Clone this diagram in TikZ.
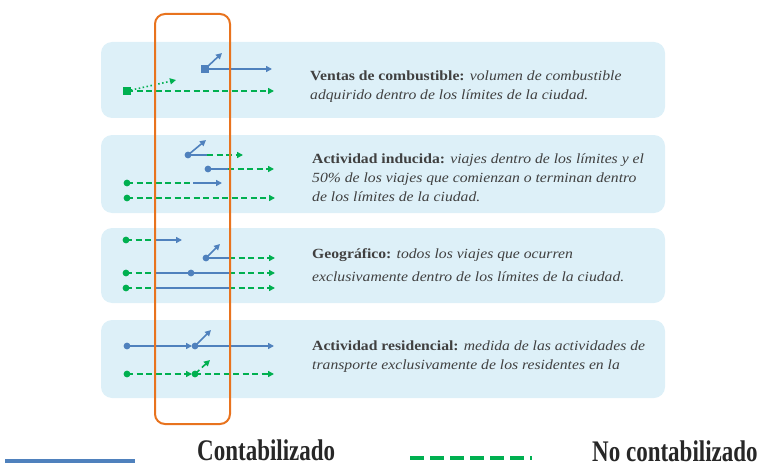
\documentclass[tikz,border=0pt]{standalone}
\usepackage{fontspec}
\setmainfont{Liberation Serif}
\newfontfamily\descfont[FakeStretch=1.12]{Liberation Serif}
\usepackage{graphicx}
\usetikzlibrary{arrows.meta}

\definecolor{contblue}{HTML}{4F81BD}
\definecolor{nocgreen}{HTML}{00B050}
\definecolor{limorange}{HTML}{E8731E}
\definecolor{panelblue}{HTML}{DDF0F8}
\definecolor{txtgray}{HTML}{404040}

\tikzset{
  panel/.style={fill=panelblue, draw=none, rounded corners=11pt},
  cont/.style={contblue, line width=1.6pt},
  nocont/.style={nocgreen, line width=1.6pt, dash pattern=on 6pt off 3.5pt},
  tip/.style={-{Triangle[length=6pt,width=6pt]}},
  desc/.style={anchor=north west, inner sep=0pt, align=left, text=txtgray,
    font=\descfont\fontsize{14}{18.7}\selectfont},
  legend/.style={inner sep=0pt, text=txtgray!60!black, font=\fontsize{23}{24}\selectfont\bfseries}
}

\begin{document}
\begin{tikzpicture}[x=1pt,y=-1pt]
    \useasboundingbox (0,0) rectangle (765,468);
    % panels
    \fill[panel] (101,42) rectangle (665,118);
    \fill[panel] (101,135) rectangle (665,213);
    \fill[panel] (101,228) rectangle (665,303);
    \fill[panel] (101,320) rectangle (665,398);

    % ventas de combustible
    \draw[cont,tip] (205,69) -- (272,69);
    \draw[cont,tip] (205,69) -- (222,53);
    \fill[contblue] (201,65) rectangle (209,73);
    \draw[nocgreen, line width=1.6pt, dash pattern=on 1.5pt off 2.5pt, tip] (127,91) -- (176,80);
    \draw[nocont,tip] (127,91) -- (274,91);
    \fill[nocgreen] (123,87) rectangle (131,95);

    % actividad inducida
    \draw[cont,tip] (188,155) -- (206,140);
    \draw[cont] (188,155) -- (207,155);
    \draw[nocont,tip] (207,155) -- (243,155);
    \fill[contblue] (188,155) circle (3.4);
    \draw[cont] (208,169) -- (228,169);
    \draw[nocont,tip] (228,169) -- (274,169);
    \fill[contblue] (208,169) circle (3.4);
    \draw[nocont] (127,183) -- (193,183);
    \draw[cont,tip] (193,183) -- (222,183);
    \fill[nocgreen] (127,183) circle (3.4);
    \draw[nocont,tip] (127,198) -- (275,198);
    \fill[nocgreen] (127,198) circle (3.4);

    % geografico
    \draw[nocont] (126,240) -- (155,240);
    \draw[cont,tip] (155,240) -- (182,240);
    \fill[nocgreen] (126,240) circle (3.4);
    \draw[cont,tip] (206,258) -- (220,244);
    \draw[cont] (206,258) -- (229,258);
    \draw[nocont,tip] (229,258) -- (275,258);
    \fill[contblue] (206,258) circle (3.4);
    \draw[nocont] (126,273) -- (155,273);
    \draw[cont] (155,273) -- (229,273);
    \draw[nocont,tip] (229,273) -- (275,273);
    \fill[nocgreen] (126,273) circle (3.4);
    \fill[contblue] (191,273) circle (3.4);
    \draw[nocont] (126,288) -- (155,288);
    \draw[cont] (155,288) -- (229,288);
    \draw[nocont,tip] (229,288) -- (275,288);
    \fill[nocgreen] (126,288) circle (3.4);

    % actividad residencial
    \draw[cont,tip] (127,346) -- (192,346);
    \draw[cont,tip] (195,346) -- (274,346);
    \draw[cont,tip] (195,346) -- (211,330);
    \fill[contblue] (127,346) circle (3.4);
    \fill[contblue] (195,346) circle (3.4);
    \draw[nocont,tip] (127,374) -- (192,374);
    \draw[nocont,tip] (195,374) -- (274,374);
    \draw[nocont,tip] (195,374) -- (210,360);
    \fill[nocgreen] (127,374) circle (3.4);
    \fill[nocgreen] (195,374) circle (3.4);

    % limites de la ciudad
    \draw[limorange, line width=2pt, rounded corners=10pt] (155,14) rectangle (230,424);

    % textos
    \node[desc] (ventas) at (310,71) {\textbf{Ventas de combustible:} \textit{volumen de combustible}\\
      \textit{adquirido dentro de los límites de la ciudad.}};
    \node[desc] (inducida) at (312,154) {\textbf{Actividad inducida:} \textit{viajes dentro de los límites y el}\\
      \textit{50\% de los viajes que comienzan o terminan dentro}\\
      \textit{de los límites de la ciudad.}};
    \node[desc] (geo) at (312,248) {\textbf{Geográfico:} \textit{todos los viajes que ocurren}\\[5pt]
      \textit{exclusivamente dentro de los límites de la ciudad.}};
    \node[desc] (resid) at (312,341) {\textbf{Actividad residencial:} \textit{medida de las actividades de}\\
      \textit{transporte exclusivamente de los residentes en la}};

    % leyenda
    \draw[contblue, line width=4pt] (5,461) -- (135,461);
    \node[legend, anchor=base west] (contab) at (197,460) {\scalebox{1}[1.3]{Contabilizado}};
    \draw[nocgreen, line width=4pt, dash pattern=on 14pt off 6pt] (410,458) -- (532,458);
    \node[legend, anchor=base west] (nocontab) at (592,461) {\scalebox{1}[1.3]{No contabilizado}};
\end{tikzpicture}
\end{document}
